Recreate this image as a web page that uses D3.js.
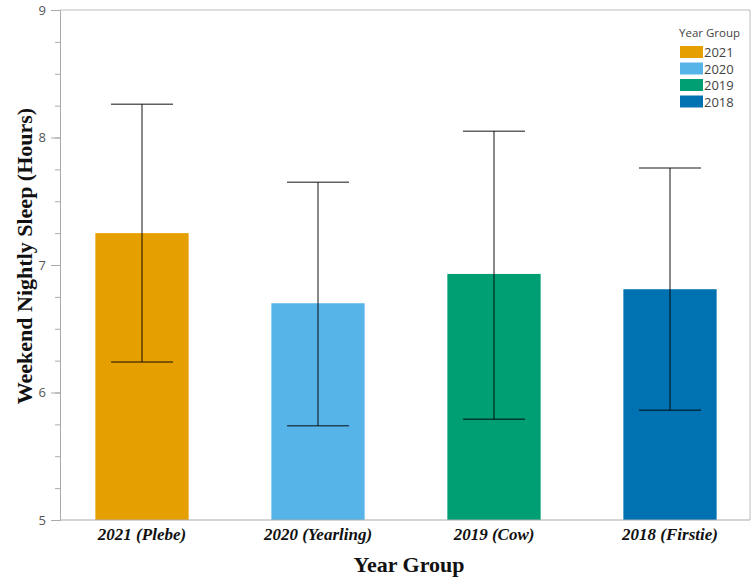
<!DOCTYPE html>
<html>
<head>
<meta charset="utf-8">
<script src="https://cdn.jsdelivr.net/npm/d3@7"></script>
<style>
  html, body { margin: 0; padding: 0; background: #fff; }
  svg { display: block; }
</style>
</head>
<body>
<svg id="chart" width="751" height="579"></svg>
<script>
// Mean weekend sleep by year group, with error bar bounds
const groups = ["2021", "2020", "2019", "2018"];
const groupLabels = ["2021 (Plebe)", "2020 (Yearling)", "2019 (Cow)", "2018 (Firstie)"];
const meanSleep = [7.25, 6.70, 6.93, 6.81];
const errLow = [6.24, 5.74, 5.79, 5.86];
const errHigh = [8.26, 7.65, 8.05, 7.76];
const groupColors = ["#E69F00", "#56B4E9", "#009E73", "#0072B2"];
const yTicks = [5, 6, 7, 8, 9];

const svg = d3.select("#chart");
const plot = { left: 60, right: 750, top: 10, bottom: 520 };

const x = d3.scaleBand()
  .domain(groups)
  .range([54, 758])
  .paddingInner(0.47)
  .paddingOuter(0.235);

const y = d3.scaleLinear().domain([5, 9]).range([plot.bottom, plot.top]);

const color = d3.scaleOrdinal().domain(groups).range(groupColors);

const data = groups.map((g, i) => ({
  g, label: groupLabels[i], mean: meanSleep[i], lo: errLow[i], hi: errHigh[i]
}));

// Frame: top and right edges
svg.append("path")
  .attr("d", `M${plot.left},${plot.top}H${plot.right}V${plot.bottom}`)
  .attr("fill", "none")
  .attr("stroke", "#bdbdbd")
  .attr("stroke-width", 1);

// Bars
svg.append("g").selectAll("rect")
  .data(data)
  .join("rect")
  .attr("x", d => x(d.g))
  .attr("width", x.bandwidth())
  .attr("y", d => y(d.mean))
  .attr("height", d => y(5) - y(d.mean))
  .attr("fill", d => color(d.g));

// Error bars
const capHalf = 31;
const eb = svg.append("g")
  .attr("stroke", "#000")
  .attr("stroke-opacity", 0.62)
  .attr("stroke-width", 1.5)
  .selectAll("g")
  .data(data)
  .join("g")
  .attr("transform", d => `translate(${x(d.g) + x.bandwidth() / 2},0)`);
eb.append("line").attr("y1", d => y(d.lo)).attr("y2", d => y(d.hi));
eb.append("line").attr("x1", -capHalf).attr("x2", capHalf)
  .attr("y1", d => y(d.hi)).attr("y2", d => y(d.hi));
eb.append("line").attr("x1", -capHalf).attr("x2", capHalf)
  .attr("y1", d => y(d.lo)).attr("y2", d => y(d.lo));

// Y axis with minor ticks
const yAxis = svg.append("g").attr("transform", `translate(${plot.left},0)`);
yAxis.call(d3.axisLeft(y).tickValues(d3.range(5, 9.001, 0.25)).tickSize(5).tickFormat(""))
  .call(g => g.selectAll(".tick line").attr("stroke", "#aaa"));
yAxis.call(g => g.select(".domain").remove());
yAxis.append("g")
  .call(d3.axisLeft(y).tickValues(yTicks).tickSize(9).tickPadding(5).tickFormat(d3.format("d")))
  .call(g => g.select(".domain").attr("stroke", "#aaa"))
  .call(g => g.selectAll(".tick line").attr("stroke", "#aaa"))
  .call(g => g.selectAll(".tick text")
    .attr("fill", "#555")
    .attr("font-family", "'Open Sans', 'Noto Sans', sans-serif")
    .attr("font-size", 13));

// X axis
const xAxis = svg.append("g").attr("transform", `translate(0,${plot.bottom})`);
xAxis.call(d3.axisBottom(x).tickSize(0).tickPadding(8).tickFormat((d, i) => groupLabels[i]))
  .call(g => g.select(".domain").remove())
  .call(g => g.selectAll(".tick text")
    .attr("fill", "#111")
    .attr("font-family", "'Liberation Serif', 'Times New Roman', serif")
    .attr("font-weight", "bold")
    .attr("font-style", "italic")
    .attr("font-size", 17));
svg.append("line")
  .attr("x1", plot.left).attr("x2", plot.right)
  .attr("y1", plot.bottom).attr("y2", plot.bottom)
  .attr("stroke", "#aaa");

// Axis titles
svg.append("text")
  .attr("x", 409).attr("y", 572)
  .attr("text-anchor", "middle")
  .attr("font-family", "'Liberation Serif', 'Times New Roman', serif")
  .attr("font-weight", "bold")
  .attr("font-size", 22)
  .attr("fill", "#111")
  .text("Year Group");

svg.append("text")
  .attr("transform", `translate(32,256) rotate(-90)`)
  .attr("text-anchor", "middle")
  .attr("font-family", "'Liberation Serif', 'Times New Roman', serif")
  .attr("font-weight", "bold")
  .attr("font-size", 22)
  .attr("fill", "#111")
  .text("Weekend Nightly Sleep (Hours)");

// Legend
const legend = svg.append("g").attr("transform", "translate(680,0)");
legend.append("text")
  .attr("x", -1).attr("y", 37)
  .attr("font-family", "'Open Sans', 'Noto Sans', sans-serif")
  .attr("font-size", 11.5)
  .attr("fill", "#444")
  .text("Year Group");
const li = legend.selectAll("g.item")
  .data(groups)
  .join("g")
  .attr("class", "item")
  .attr("transform", (d, i) => `translate(0,${46 + i * 16.5})`);
li.append("rect").attr("width", 23).attr("height", 12).attr("fill", d => color(d));
li.append("text")
  .attr("x", 24).attr("y", 11)
  .attr("font-family", "'Open Sans', 'Noto Sans', sans-serif")
  .attr("font-size", 13)
  .attr("fill", "#444")
  .text(d => d);
</script>
</body>
</html>
